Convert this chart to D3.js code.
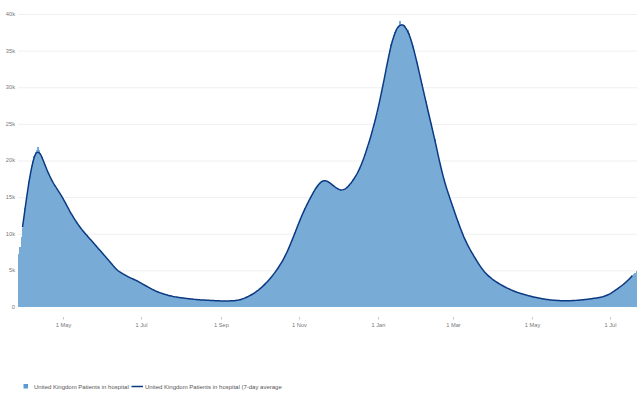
<!DOCTYPE html>
<html><head><meta charset="utf-8">
<script src="https://cdn.jsdelivr.net/npm/d3@7"></script>
<style>
html,body{margin:0;padding:0;background:#fff;}
svg{display:block;font-family:"Liberation Sans",Arial,sans-serif;}
</style></head>
<body><svg id="chart" width="642" height="397"></svg>
<script>
// ---- data ----
const startDate = "2020-03-27";
const hospitalPatients = [
7300,8200,9500,10800,12100,13500,14800,16000,17200,18300,
19200,20000,20600,21100,21500,21800,21400,21000,20500,20000,
19600,19200,18700,18300,17900,17500,17200,16900,16600,16300,
16100,15800,15600,15300,15000,14700,14400,14000,13700,13300,
13000,12700,12400,12100,11900,11600,11300,11100,10800,10600,
10400,10200,10000,9800,9600,9400,9200,9000,8800,8600,
8400,8200,8000,7800,7600,7400,7200,7000,6800,6600,
6400,6200,6000,5800,5500,5300,5100,4950,4850,4750,
4650,4550,4450,4350,4250,4150,4050,3950,3900,3850,
3750,3700,3600,3500,3400,3300,3200,3100,3000,2900,
2800,2700,2600,2500,2400,2300,2220,2150,2080,2010,
1950,1890,1830,1780,1720,1670,1620,1570,1520,1480,
1440,1410,1380,1350,1320,1300,1280,1250,1230,1200,
1180,1160,1140,1120,1100,1080,1060,1040,1020,1000,
990,980,970,960,950,940,930,920,910,900,
890,880,870,860,850,845,840,835,830,825,
820,820,820,825,830,835,840,850,860,870,
890,920,950,1010,1070,1140,1210,1280,1360,1440,
1530,1630,1730,1840,1950,2070,2200,2350,2500,2650,
2800,2970,3150,3320,3500,3700,3900,4120,4350,4570,
4800,5050,5300,5570,5850,6150,6450,6770,7100,7470,
7850,8270,8700,9150,9600,10050,10500,10950,11400,11850,
12300,12700,13100,13450,13800,14150,14500,14850,15200,15500,
15800,16100,16400,16650,16900,17050,17200,17250,17400,17300,
17250,17150,17000,16850,16700,16550,16400,16270,16150,16050,
15950,15920,15900,15950,16000,16150,16300,16500,16700,16950,
17200,17450,17700,18000,18300,18650,19000,19450,19900,20400,
20900,21450,22000,22600,23200,23750,24300,25000,25700,26450,
27200,28000,28800,29650,30500,31400,32300,33250,34200,35050,
35900,36500,37100,37500,37900,38150,38400,39100,38600,38550,
38500,38300,38100,37750,37400,36850,36300,35650,35000,34250,
33500,32750,32000,31200,30400,29650,28900,28150,27400,26600,
25800,25100,24400,23650,22900,22100,21300,20500,19650,18800,
18000,17450,16900,16350,15800,15250,14700,14200,13700,13200,
12700,12200,11700,11200,10700,10250,9800,9400,9000,8650,
8300,8000,7700,7400,7100,6800,6500,6200,5900,5650,
5400,5150,4900,4720,4550,4370,4200,4050,3900,3770,
3650,3520,3400,3300,3200,3100,3000,2900,2800,2700,
2600,2520,2450,2370,2300,2220,2150,2070,2000,1950,
1900,1850,1800,1750,1700,1650,1600,1550,1500,1450,
1400,1360,1320,1280,1250,1210,1180,1150,1120,1090,
1060,1030,1010,990,970,950,930,915,900,890,
880,870,860,855,850,850,850,850,850,855,
860,870,880,890,900,915,930,945,960,980,
1000,1020,1040,1060,1080,1100,1130,1150,1180,1200,
1230,1260,1290,1320,1360,1400,1450,1510,1580,1660,
1750,1850,1950,2070,2200,2320,2450,2570,2700,2820,
2950,3100,3250,3400,3550,3720,3900,4100,4300,4500,
4700,4950
];
const yTicks = [0,5000,10000,15000,20000,25000,30000,35000,40000];
const yTickLabels = ["0","5k","10k","15k","20k","25k","30k","35k","40k"];
const xTickDates = ["2020-05-01","2020-07-01","2020-09-01","2020-11-01","2021-01-01","2021-03-01","2021-05-01","2021-07-01"];
const xTickLabels = ["1 May","1 Jul","1 Sep","1 Nov","1 Jan","1 Mar","1 May","1 Jul"];
const seriesNames = ["United Kingdom Patients in hospital","United Kingdom Patients in hospital (7-day average"];

// ---- build ----
const parse = d3.utcParse("%Y-%m-%d");
const t0 = parse(startDate);
const days = hospitalPatients.map((v,i)=>({date:d3.utcDay.offset(t0,i), value:v}));
const tEnd = d3.utcDay.offset(t0, hospitalPatients.length);

const svg = d3.select("#chart");
const x = d3.scaleUtc().domain([t0,tEnd]).range([18,637]);
const y = d3.scaleLinear().domain([0,40000]).range([307,14]);

// gridlines
svg.append("g").selectAll("line").data(yTicks.slice(1)).join("line")
  .attr("x1",18).attr("x2",637)
  .attr("y1",d=>y(d)+0.5).attr("y2",d=>y(d)+0.5)
  .attr("stroke","#efefef").attr("stroke-width",1);

// y labels
svg.append("g").selectAll("text").data(yTicks).join("text")
  .attr("x",15).attr("y",d=>y(d)).attr("dy","0.35em")
  .attr("text-anchor","end").attr("font-size",5.7).attr("fill","#777")
  .text((d,i)=>yTickLabels[i]);

// bars
const bw = x(d3.utcDay.offset(t0,1)) - x(t0);
svg.append("g").attr("shape-rendering","crispEdges")
  .selectAll("rect").data(days).join("rect")
  .attr("x",d=>x(d.date))
  .attr("width",bw+0.2)
  .attr("y",d=>y(d.value))
  .attr("height",d=>y(0)-y(d.value))
  .attr("fill","#79abd7");

// 7-day centered average
const avg = [];
for(let i=3;i<days.length-3;i++){
  avg.push({date:days[i].date, value:d3.mean(hospitalPatients.slice(i-3,i+4))});
}
const line = d3.line().x(d=>x(d.date)+bw/2).y(d=>y(d.value)).curve(d3.curveMonotoneX);
svg.append("path").datum(avg).attr("d",line)
  .attr("fill","none").attr("stroke","#0b3a84").attr("stroke-width",1.5)
  .attr("stroke-linejoin","round");

// x axis ticks
const xt = svg.append("g");
xTickDates.forEach((s,i)=>{
  const px = Math.round(x(parse(s)))+0.5;
  xt.append("line").attr("x1",px).attr("x2",px).attr("y1",317).attr("y2",319.5)
    .attr("stroke","#bbb").attr("stroke-width",0.8);
  xt.append("text").attr("x",px).attr("y",326.5).attr("text-anchor","middle")
    .attr("font-size",5.7).attr("fill","#777").text(xTickLabels[i]);
});

// legend
const lg = svg.append("g");
lg.append("rect").attr("x",23.5).attr("y",384).attr("width",4.5).attr("height",4.5).attr("fill","#5b9bd5");
lg.append("text").attr("x",34).attr("y",389).attr("font-size",6).attr("fill","#555").text(seriesNames[0]);
lg.append("line").attr("x1",131.5).attr("x2",143).attr("y1",386.5).attr("y2",386.5)
  .attr("stroke","#0b3a84").attr("stroke-width",1.5);
lg.append("text").attr("x",145).attr("y",389).attr("font-size",6).attr("fill","#555").text(seriesNames[1]);
</script>
</body></html>
